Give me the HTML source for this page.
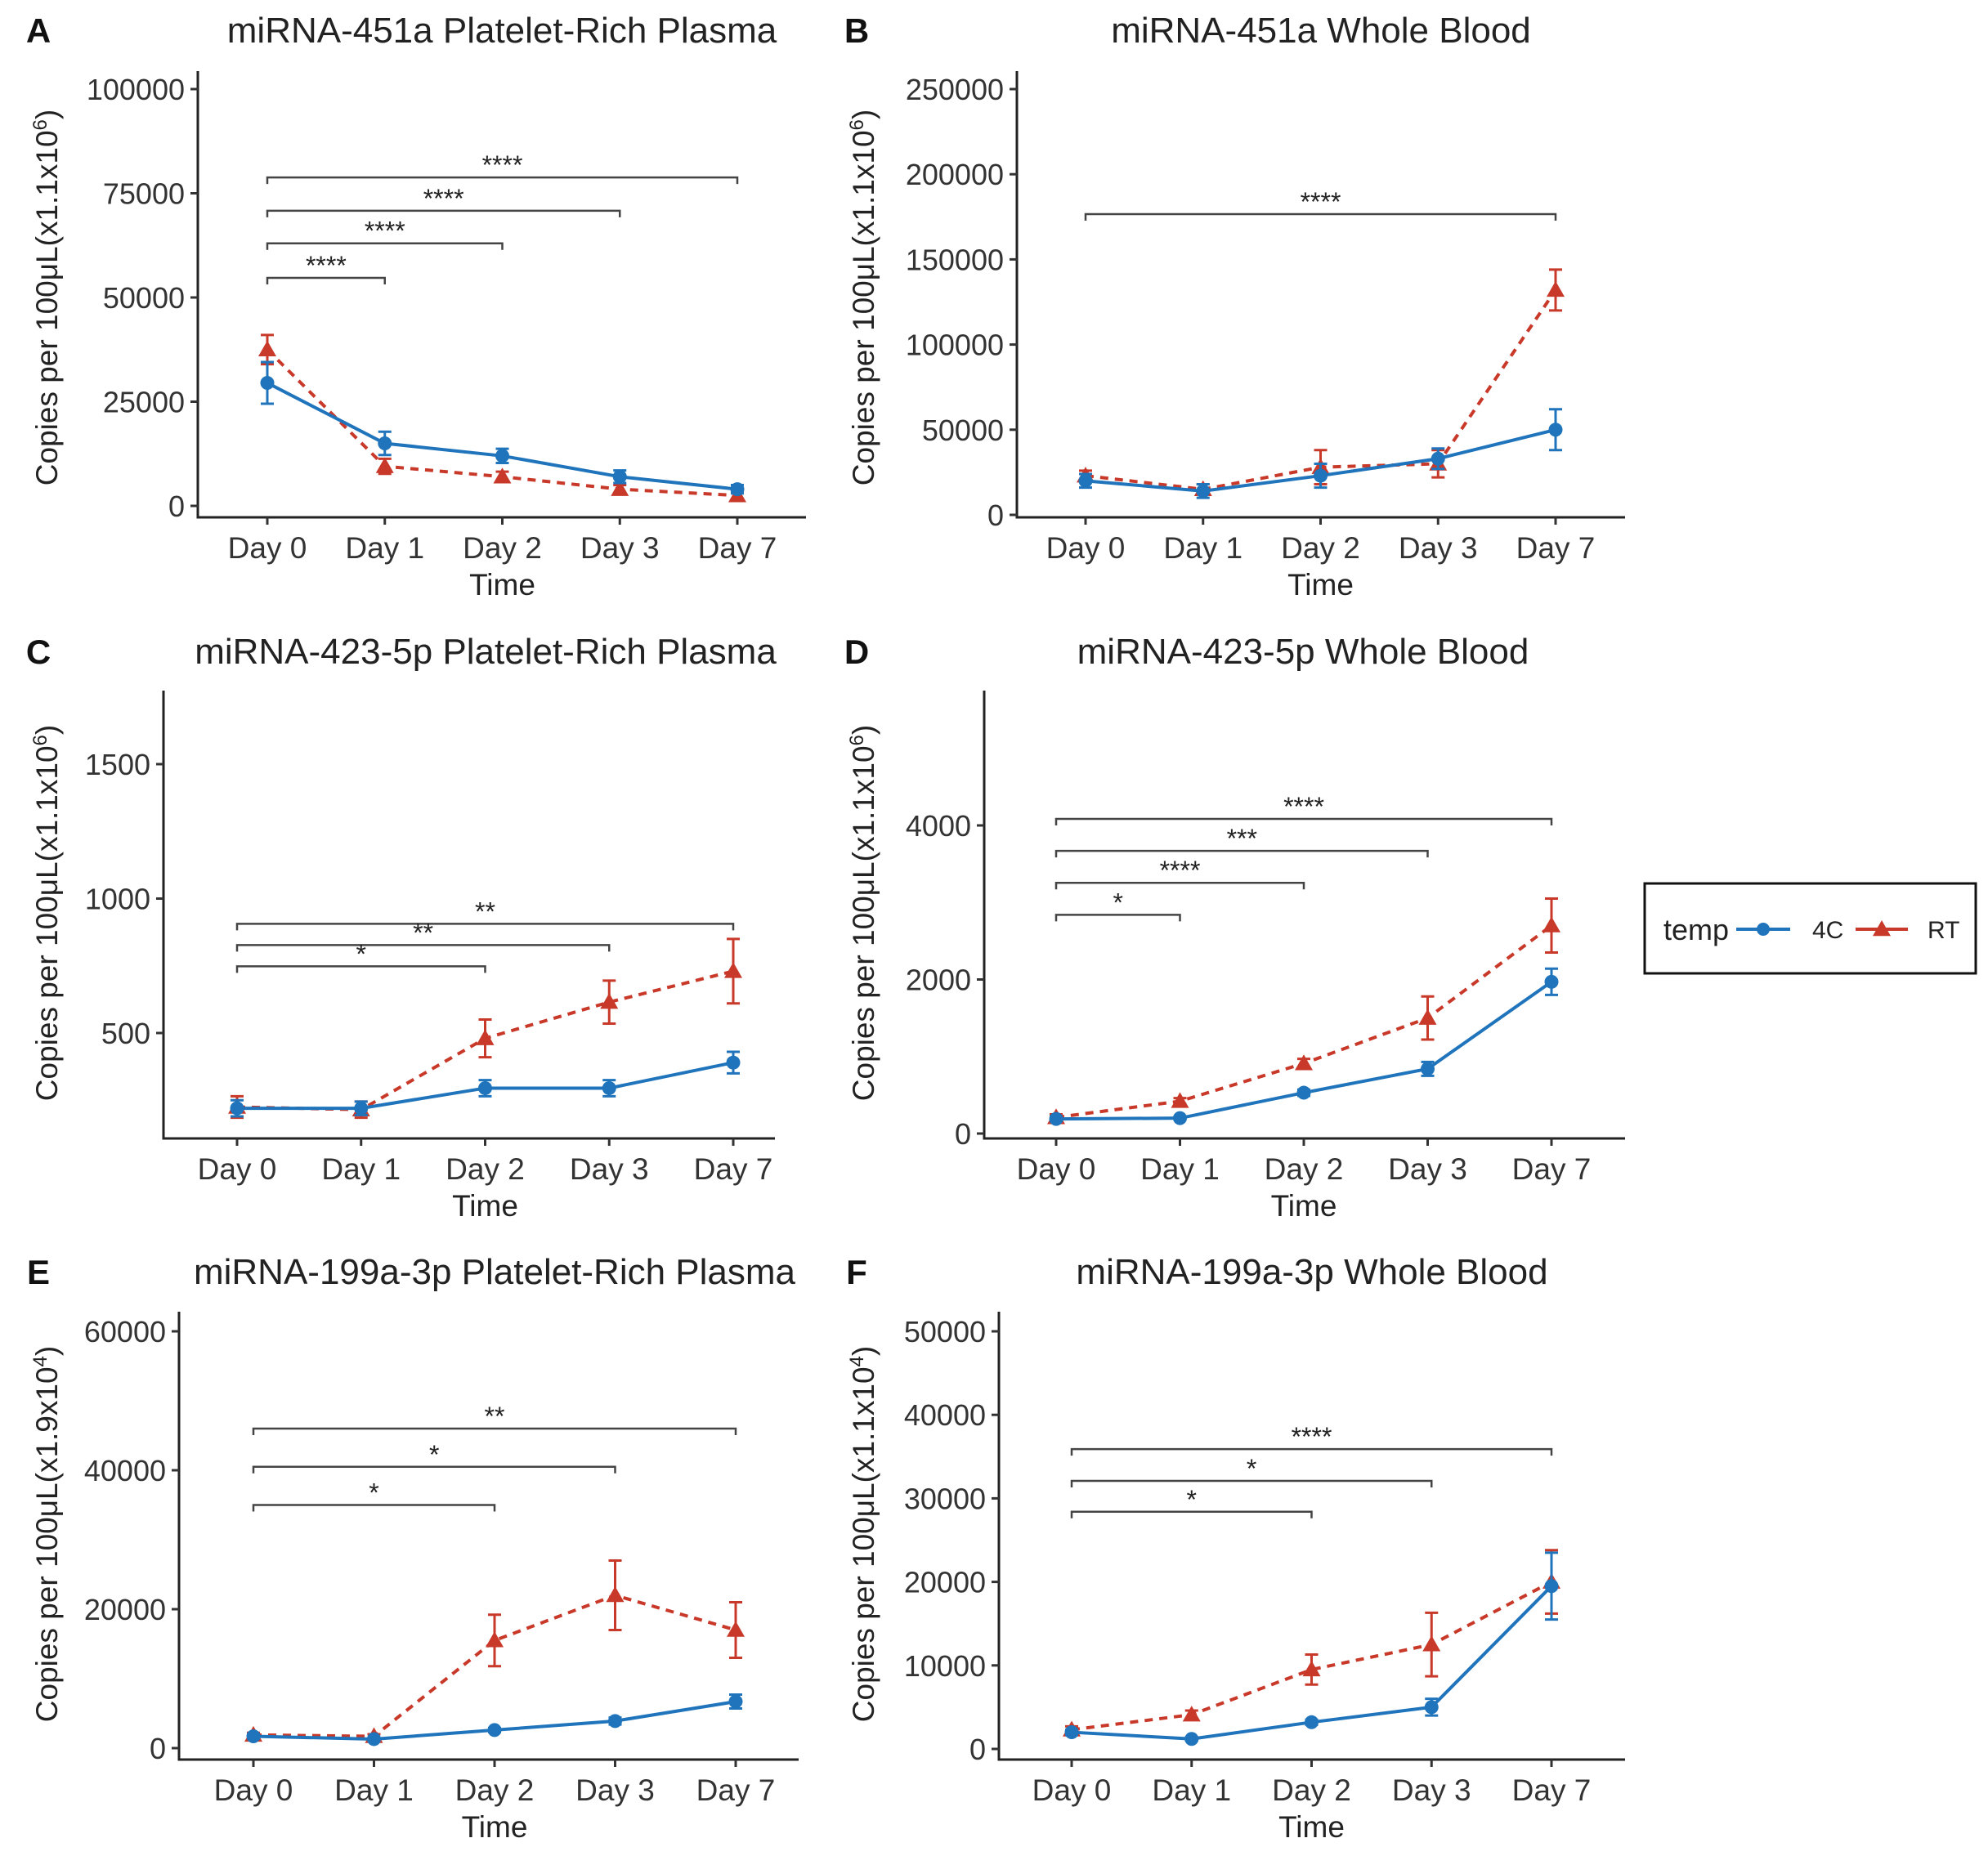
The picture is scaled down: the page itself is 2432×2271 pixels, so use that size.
<!DOCTYPE html>
<html><head><meta charset="utf-8">
<style>
html,body{margin:0;padding:0;background:#fff;}
svg{display:block;font-family:"Liberation Sans",sans-serif;}
</style></head>
<body>
<svg id="fig" width="2432" height="2271" viewBox="0 0 2432 2271" xmlns="http://www.w3.org/2000/svg"></svg>
<script>
// categories
const days = ["Day 0","Day 1","Day 2","Day 3","Day 7"];
// Panel A
const aTicks = [0,25000,50000,75000,100000];
const a4C = [29500,15000,12000,7000,4000];
const a4Cerr = [5000,2800,1700,1500,1000];
const aRT = [37500,9500,7000,4000,2500];
const aRTerr = [3500,1800,1200,1000,800];
const aBrEnd = [4,3,2,1];
const aBrVal = [78800,70800,63000,54700];
const aBrLab = ["****","****","****","****"];
// Panel B
const bTicks = [0,50000,100000,150000,200000,250000];
const b4C = [20000,14000,23000,33000,50000];
const b4Cerr = [4000,4000,7000,6000,12000];
const bRT = [23000,15000,28000,30000,132000];
const bRTerr = [3000,3000,10000,8000,12000];
const bBrEnd = [4];
const bBrVal = [176600];
const bBrLab = ["****"];
// Panel C
const cTicks = [500,1000,1500];
const c4C = [220,220,295,295,390];
const c4Cerr = [30,25,30,30,40];
const cRT = [225,215,480,615,730];
const cRTerr = [40,30,70,80,120];
const cBrEnd = [4,3,2];
const cBrVal = [906,827,748];
const cBrLab = ["**","**","*"];
// Panel D
const dTicks = [0,2000,4000];
const d4C = [190,200,530,840,1970];
const d4Cerr = [30,20,40,90,170];
const dRT = [210,420,910,1500,2700];
const dRTerr = [40,40,60,280,350];
const dBrEnd = [4,3,2,1];
const dBrVal = [4085,3670,3255,2840];
const dBrLab = ["****","***","****","*"];
// Panel E
const eTicks = [0,20000,40000,60000];
const e4C = [1700,1300,2600,3900,6700];
const e4Cerr = [300,200,300,500,1000];
const eRT = [1900,1700,15500,22000,17000];
const eRTerr = [300,300,3700,5000,4000];
const eBrEnd = [4,3,2];
const eBrVal = [46000,40500,35000];
const eBrLab = ["**","*","*"];
// Panel F
const fTicks = [0,10000,20000,30000,40000,50000];
const f4C = [2000,1200,3200,5000,19500];
const f4Cerr = [300,200,300,1000,4000];
const fRT = [2300,4100,9500,12500,20000];
const fRTerr = [400,500,1800,3800,3800];
const fBrEnd = [4,3,2];
const fBrVal = [35900,32100,28400];
const fBrLab = ["****","*","*"];

const NS="http://www.w3.org/2000/svg";
const svg=document.getElementById('fig');
const BLUE="#1f74bb", RED="#c8392a";
function mk(tag,attrs,parent){const e=document.createElementNS(NS,tag);for(const k in attrs)e.setAttribute(k,attrs[k]);(parent||svg).appendChild(e);return e;}

const panels=[
 {id:"a",letter:"A",title:"miRNA-451a Platelet-Rich Plasma",lx:47,ty:37,tx:614,ax:242,axR:986,axTop:87,axY:633,x0:327,x7:902,v0:0,p0:619,v1:100000,p1:109,ticks:aTicks,c:a4C,ce:a4Cerr,r:aRT,re:aRTerr,be:aBrEnd,bv:aBrVal,bl:aBrLab,ylab:"x1.1x10",sup:"6",ylx:57,yly:364,dly:670,tly:715},
 {id:"b",letter:"B",title:"miRNA-451a Whole Blood",lx:1048,ty:37,tx:1616,ax:1244,axR:1988,axTop:87,axY:633,x0:1328,x7:1903,v0:0,p0:630,v1:250000,p1:109,ticks:bTicks,c:b4C,ce:b4Cerr,r:bRT,re:bRTerr,be:bBrEnd,bv:bBrVal,bl:bBrLab,ylab:"x1.1x10",sup:"6",ylx:1056,yly:364,dly:670,tly:715},
 {id:"c",letter:"C",title:"miRNA-423-5p Platelet-Rich Plasma",lx:47,ty:797,tx:594,ax:200,axR:948,axTop:845,axY:1393,x0:290,x7:897,v0:500,p0:1264,v1:1500,p1:935,ticks:cTicks,c:c4C,ce:c4Cerr,r:cRT,re:cRTerr,be:cBrEnd,bv:cBrVal,bl:cBrLab,ylab:"x1.1x10",sup:"6",ylx:57,yly:1117,dly:1430,tly:1475},
 {id:"d",letter:"D",title:"miRNA-423-5p Whole Blood",lx:1048,ty:797,tx:1594,ax:1204,axR:1988,axTop:845,axY:1393,x0:1292,x7:1898,v0:0,p0:1387,v1:4000,p1:1010,ticks:dTicks,c:d4C,ce:d4Cerr,r:dRT,re:dRTerr,be:dBrEnd,bv:dBrVal,bl:dBrLab,ylab:"x1.1x10",sup:"6",ylx:1056,yly:1117,dly:1430,tly:1475},
 {id:"e",letter:"E",title:"miRNA-199a-3p Platelet-Rich Plasma",lx:47,ty:1556,tx:605,ax:219,axR:977,axTop:1605,axY:2153,x0:310,x7:900,v0:0,p0:2139,v1:60000,p1:1629,ticks:eTicks,c:e4C,ce:e4Cerr,r:eRT,re:eRTerr,be:eBrEnd,bv:eBrVal,bl:eBrLab,ylab:"x1.9x10",sup:"4",ylx:57,yly:1877,dly:2190,tly:2235},
 {id:"f",letter:"F",title:"miRNA-199a-3p Whole Blood",lx:1048,ty:1556,tx:1605,ax:1222,axR:1988,axTop:1605,axY:2153,x0:1311,x7:1898,v0:0,p0:2140,v1:50000,p1:1629,ticks:fTicks,c:f4C,ce:f4Cerr,r:fRT,re:fRTerr,be:fBrEnd,bv:fBrVal,bl:fBrLab,ylab:"x1.1x10",sup:"4",ylx:1056,yly:1877,dly:2190,tly:2235}
];

function tri(g,x,y,col){const s=11;const p=mk('polygon',{points:`${x},${y-s} ${x-s},${y+s*0.75} ${x+s},${y+s*0.75}`,fill:col},g);return p;}

panels.forEach(P=>{
  const g=mk('g',{});
  
  
  const X=i=>P.x0+(P.x7-P.x0)*i/(days.length-1);
  const Y=v=>P.p0+(v-P.v0)*(P.p1-P.p0)/(P.v1-P.v0);
  let t=mk('text',{x:P.lx,y:P.ty+15,'font-size':42,'font-weight':'bold','text-anchor':'middle',fill:'#111'},g);t.textContent=P.letter;
  
  t=mk('text',{x:P.tx,y:P.ty+15,'font-size':44,'text-anchor':'middle',fill:'#222'},g);t.textContent=P.title;
  
  let l=mk('line',{x1:P.ax,y1:P.axTop,x2:P.ax,y2:P.axY,stroke:'#222','stroke-width':3},g);
  
  l=mk('line',{x1:P.ax-1.5,y1:P.axY,x2:P.axR,y2:P.axY,stroke:'#222','stroke-width':3},g);
  
  P.ticks.forEach(v=>{
    const y=Y(v);
    mk('line',{x1:P.ax-9,y1:y,x2:P.ax,y2:y,stroke:'#333','stroke-width':3},g);
    const tt=mk('text',{x:P.ax-16,y:y+13,'font-size':36,'text-anchor':'end',fill:'#333'},g);tt.textContent=v;
    
  });
  days.forEach((d,i)=>{
    mk('line',{x1:X(i),y1:P.axY,x2:X(i),y2:P.axY+9,stroke:'#333','stroke-width':3},g);
    const tt=mk('text',{x:X(i),y:P.dly+13,'font-size':37,'text-anchor':'middle',fill:'#333'},g);tt.textContent=d;
    
  });
  t=mk('text',{x:(P.x0+P.x7)/2,y:P.tly+13,'font-size':37,'text-anchor':'middle',fill:'#222'},g);t.textContent="Time";
  
  t=mk('text',{x:0,y:0,'font-size':37,'text-anchor':'middle',fill:'#222',transform:`translate(${P.ylx+13},${P.yly}) rotate(-90)`},g);
  
  t.appendChild(document.createTextNode("Copies per 100\u03BCL("+P.ylab));
  const sp=mk('tspan',{'baseline-shift':'super','font-size':24},t);sp.textContent=P.sup;
  const sp2=mk('tspan',{},t);sp2.textContent=")";
  P.be.forEach((e,k)=>{
    const y=Y(P.bv[k]);
    const br=mk('path',{d:`M${X(0)},${y+8} V${y} H${X(e)} V${y+8}`,fill:'none',stroke:'#444','stroke-width':2.5},g);
    
    const st=mk('text',{x:(X(0)+X(e))/2,y:y-4,'font-size':32,'text-anchor':'middle',fill:'#222'},g);st.textContent=P.bl[k];
    
  });
  [[P.r,P.re,RED,'rt'],[P.c,P.ce,BLUE,'4c']].forEach(([vals,errs,col,nm])=>{
    vals.forEach((v,i)=>{
      const x=X(i),y1=Y(v+errs[i]),y2=Y(v-errs[i]);
      const eb=mk('path',{d:`M${x-8},${y1} H${x+8} M${x},${y1} V${y2} M${x-8},${y2} H${x+8}`,stroke:col,'stroke-width':3,fill:'none'},g);
      
    });
    const pl=mk('polyline',{points:vals.map((v,i)=>X(i)+','+Y(v)).join(' '),fill:'none',stroke:col,'stroke-width':4,'stroke-dasharray':nm==='rt'?'10,8':'none'},g);
    
    vals.forEach((v,i)=>{
      let m;
      if(nm==='rt') m=tri(g,X(i),Y(v),col); else m=mk('circle',{cx:X(i),cy:Y(v),r:8.5,fill:col},g);
      
    });
  });
});

const lg=mk('g',{});

mk('rect',{x:2012,y:1081,width:405,height:110,fill:'#fff',stroke:'#111','stroke-width':3},lg);
let lt=mk('text',{x:2035,y:1150,'font-size':36,fill:'#222'},lg);lt.textContent="temp";

let e1=mk('g',{},lg);
mk('line',{x1:2124,y1:1137,x2:2190,y2:1137,stroke:BLUE,'stroke-width':4},e1);
mk('circle',{cx:2157,cy:1137,r:8,fill:BLUE},e1);
lt=mk('text',{x:2217,y:1148,'font-size':30,fill:'#222'},e1);lt.textContent="4C";
let e2=mk('g',{},lg);
mk('line',{x1:2270,y1:1137,x2:2334,y2:1137,stroke:RED,'stroke-width':4},e2);
tri(e2,2302,1137,RED);
lt=mk('text',{x:2358,y:1148,'font-size':30,fill:'#222'},e2);lt.textContent="RT";
</script>
</body></html>
